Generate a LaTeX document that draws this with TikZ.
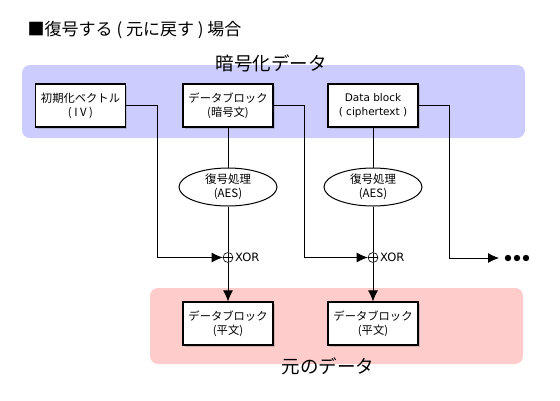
\documentclass[tikz,border=0pt]{standalone}
\usepackage{fontspec}
\setmainfont{Noto Sans CJK JP}
\newfontfamily\latinfont{DejaVu Sans}
\usetikzlibrary{arrows.meta,shapes.geometric,shadows}
\definecolor{cipherarea}{RGB}{204,204,255}
\definecolor{plainarea}{RGB}{255,204,204}
\def\branch{31}

\begin{document}
\begin{tikzpicture}[x=1pt,y=-1pt,>={Latex[length=11pt,width=10pt]},line width=0.8pt]
    \tikzstyle{block}=[draw,line width=1.2pt,fill=white,minimum width=90pt,minimum height=43pt,
        align=center,inner sep=2pt,font=\fontsize{11.3}{14}\selectfont,
        drop shadow={shadow xshift=1.5pt,shadow yshift=-1.5pt,opacity=0.35}]
    \tikzstyle{decrypt}=[ellipse,draw,line width=1pt,fill=white,minimum width=98pt,minimum height=38pt,
        align=center,inner sep=0pt,font=\fontsize{11.5}{14}\selectfont]
    \tikzstyle{xor}=[circle,draw,line width=0.6pt,fill=white,minimum size=10pt,inner sep=0pt,
        path picture={\draw[line width=0.6pt] (path picture bounding box.north) -- (path picture bounding box.south)
            (path picture bounding box.west) -- (path picture bounding box.east);}]
    \tikzstyle{area label}=[font=\fontsize{18.5}{19}\selectfont]

    \useasboundingbox (0,0) rectangle (560,400);

    % title
    \node[anchor=west,font=\fontsize{17}{18}\selectfont] (title) at (24,30) {■復号する ( 元に戻す ) 場合};

    % shaded areas
    \fill[cipherarea,rounded corners=8pt] (22,65) rectangle (525,138);
    \fill[plainarea,rounded corners=8pt] (150,288) rectangle (523,364);
    \node[area label] (ctitle) at (271,63) {暗号化データ};
    \node[area label] (ptitle) at (328,366) {元のデータ};

    % input blocks
    \node[block] (iv) at (80.5,105.5) {初期化ベクトル\\( I V )};
    \foreach \i/\x/\txt in {1/228/{データブロック\\(暗号文)},2/373/{\latinfont\fontsize{10.5}{14}\selectfont Data block\\\latinfont\fontsize{10.5}{14}\selectfont( ciphertext )}}
        \node[block] (c\i) at (\x,105.5) {\txt};

    % decryption, xor and output blocks
    \foreach \i/\x in {1/228,2/373} {
        \node[decrypt] (d\i) at (\x,187) {復号処理\\(AES)};
        \node[xor] (x\i) at (\x,257.5) {};
        \node[anchor=west,inner sep=1.5pt,font=\latinfont\fontsize{11.5}{12}\selectfont] (xl\i) at (x\i.east) {XOR};
        \node[block] (p\i) at (\x,323.5) {データブロック\\(平文)};
        \draw (c\i) -- (d\i);
        \draw (d\i) -- (x\i);
        \draw[->] (x\i) -- (p\i);
    }

    % chaining
    \coordinate (more) at (499,258);
    \draw[->] (iv.east) -- ++(\branch,0) |- (x1.west);
    \draw[->] (c1.east) -- ++(\branch,0) |- (x2.west);
    \draw[->] (c2.east) -- ++(\branch,0) |- (more);
    \foreach \k in {0,1,2}
        \fill ([xshift=9+\k*9]more) circle (3.2);
\end{tikzpicture}
\end{document}
